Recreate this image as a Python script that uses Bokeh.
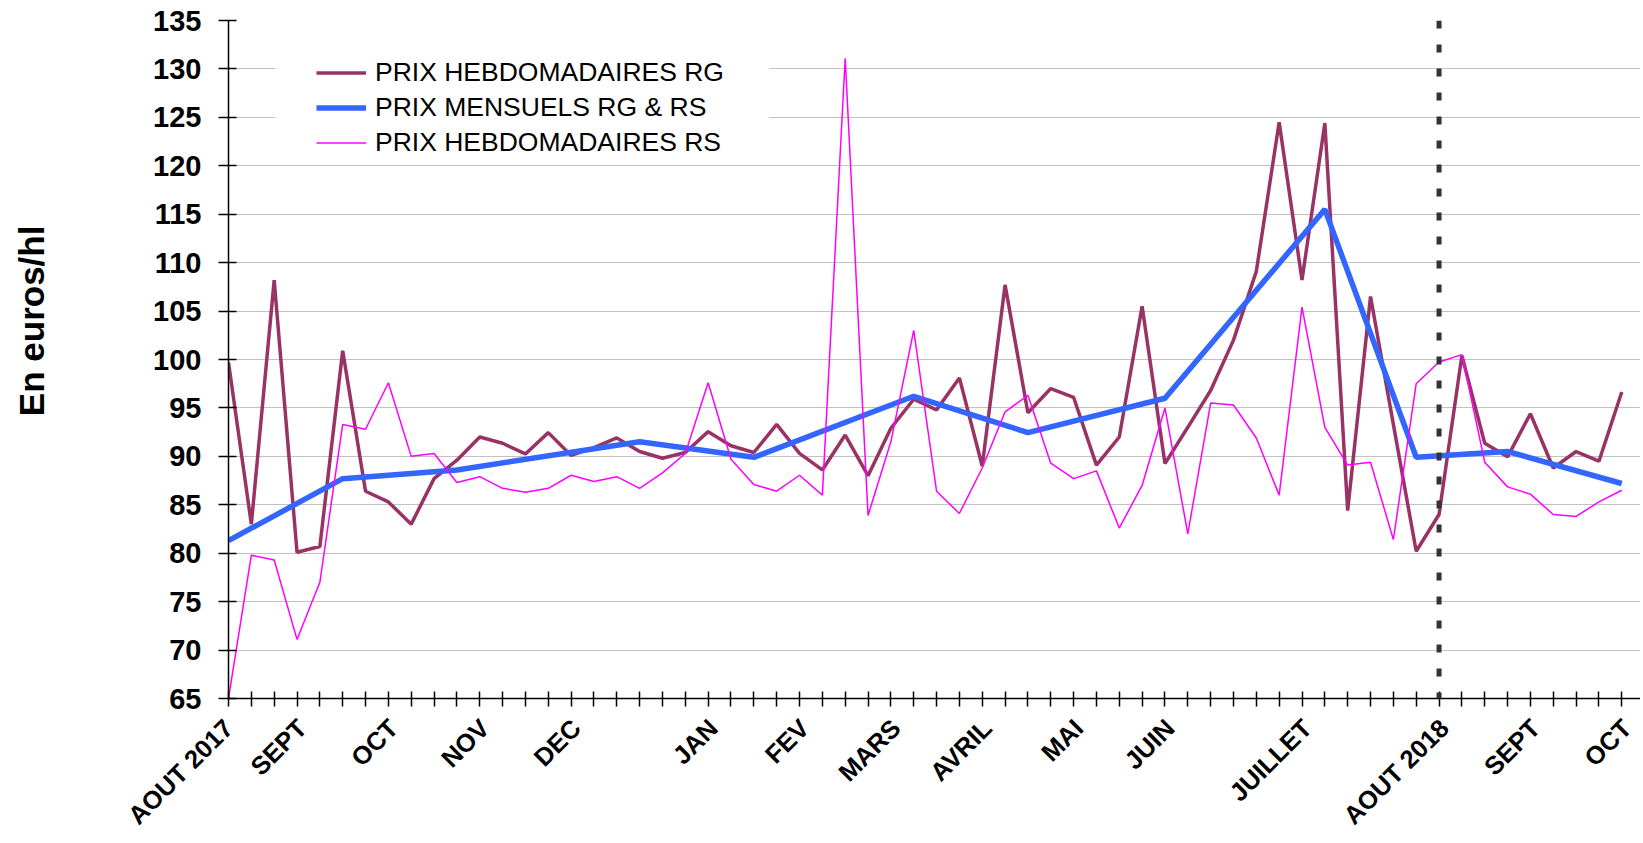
import math
from bokeh.plotting import figure
from bokeh.layouts import row
from bokeh.models import Range1d, FixedTicker, Span, Legend, LegendItem, BoxAnnotation
from bokeh.core.properties import value
from bokeh.embed import file_html
from bokeh.resources import INLINE

# ---- data ----
prix_rg = [99.7, 83.0, 108.2, 80.1, 80.7, 100.9, 86.4, 85.3, 83.0, 87.7,
           89.6, 92.0, 91.35, 90.25, 92.45, 90.1, 90.9, 91.9, 90.5, 89.8,
           90.4, 92.55, 91.1, 90.4, 93.3, 90.3, 88.6, 92.2, 88.0, 92.9,
           95.9, 94.8, 98.1, 89.0, 107.7, 94.5, 97.0, 96.1, 89.1, 92.0,
           105.5, 89.25, 93.0, 96.8, 102.0, 109.1, 124.5, 108.2, 124.4, 84.4,
           106.5, 93.3, 80.2, 84.0, 100.4, 91.35, 89.95, 94.4, 88.8, 90.5,
           89.5, 96.65]
prix_rs = [65.0, 79.8, 79.3, 71.1, 77.0, 93.3, 92.8, 97.6, 90.0, 90.3,
           87.3, 87.9, 86.7, 86.3, 86.7, 88.05, 87.4, 87.9, 86.7, 88.3,
           90.3, 97.6, 89.7, 87.1, 86.4, 88.05, 86.0, 131.1, 83.9, 91.5,
           103.0, 86.4, 84.1, 88.8, 94.6, 96.3, 89.3, 87.7, 88.5, 82.6,
           87.0, 95.0, 82.0, 95.5, 95.3, 91.9, 86.0, 105.4, 93.0, 89.1,
           89.4, 81.4, 97.5, 99.75, 100.5, 89.4, 86.85, 86.1, 84.0, 83.8,
           85.3, 86.5]
mensuel_semaine = [0, 5, 10, 18, 23, 30, 35, 41, 48, 52, 56, 61]
prix_mensuels = [81.3, 87.7, 88.6, 91.5, 89.9, 96.2, 92.45, 96.0, 115.5, 89.9, 90.5, 87.2]

mois_semaine = [0, 3, 7, 11, 15, 21, 25, 29, 33, 37, 41, 47, 53, 57, 61]
mois_labels = ["AOUT 2017", "SEPT", "OCT", "NOV", "DEC", "JAN", "FEV", "MARS",
               "AVRIL", "MAI", "JUIN", "JUILLET", "AOUT 2018", "SEPT", "OCT"]
y_ticks = list(range(65, 136, 5))
semaine_aout_2018 = 53
titre_y = "En euros/hl"

semaines = list(range(len(prix_rg)))

FONT = "Liberation Sans"
H = 842
TITLE_W = 60

# ---- narrow panel holding the vertical axis title ----
pt = figure(width=TITLE_W, height=H, output_backend="svg", toolbar_location=None,
            x_range=Range1d(0, TITLE_W), y_range=Range1d(0, H),
            x_axis_type=None, y_axis_type=None, min_border=0)
pt.title.visible = False
pt.outline_line_color = None
pt.grid.visible = False
pt.text(x=[30.5], y=[469], text=[titre_y], angle=math.pi / 2,
        text_align="center", text_baseline="middle",
        text_font=value(FONT), text_font_style="bold", text_font_size="35px",
        text_color="black")

# ---- main chart ----
p = figure(width=1640 - TITLE_W, height=H, output_backend="svg", toolbar_location=None,
           x_range=Range1d(0, 61.82), y_range=Range1d(65, 135),
           min_border_left=228 - TITLE_W, min_border_right=0, min_border_top=20,
           min_border_bottom=142)
p.title.visible = False
p.outline_line_color = None
p.background_fill_color = "white"

# grid
p.xgrid.visible = False
p.ygrid.ticker = FixedTicker(ticks=y_ticks)
p.ygrid.grid_line_color = "#858585"
p.ygrid.grid_line_width = 1.2
p.ygrid.grid_line_dash = "1 1"

# y axis
ya = p.yaxis[0]
ya.ticker = FixedTicker(ticks=y_ticks)
ya.major_label_text_font = FONT
ya.major_label_text_font_style = "bold"
ya.major_label_text_font_size = "29px"
ya.major_label_text_color = "black"
ya.axis_line_color = "black"
ya.axis_line_width = 1.5
ya.major_tick_in = 8
ya.major_tick_out = 10
ya.major_tick_line_color = "black"
ya.major_tick_line_width = 1.5
ya.minor_tick_line_color = None
ya.major_label_standoff = 17

# x axis: a tick mark on every week, month names slightly right of their week
label_pos = [s if s == 0 else s + 0.22 for s in mois_semaine]
xa = p.xaxis[0]
xa.ticker = FixedTicker(ticks=label_pos, minor_ticks=semaines)
xa.major_label_overrides = {pos: lab for pos, lab in zip(label_pos, mois_labels)}
xa.major_label_orientation = math.pi / 4
xa.major_label_text_font = FONT
xa.major_label_text_font_style = "bold"
xa.major_label_text_font_size = "25.5px"
xa.major_label_text_color = "black"
xa.axis_line_color = "black"
xa.axis_line_width = 1.5
xa.major_tick_in = 0
xa.major_tick_out = 8
xa.major_tick_line_color = None
xa.minor_tick_in = 7
xa.minor_tick_out = 8
xa.minor_tick_line_color = "black"
xa.minor_tick_line_width = 1.5
xa.major_label_standoff = 17

# white area behind legend (hides gridlines like the original)
box = BoxAnnotation(left=2.06, right=23.67, bottom=120.4, top=132.2,
                    fill_color="white", fill_alpha=1.0, line_color=None, level="glyph")
p.add_layout(box)

# series
r_rg = p.line(semaines, prix_rg, line_color="#993366", line_width=3.5)
r_m = p.line(mensuel_semaine, prix_mensuels, line_color="#3366FF", line_width=5.5)
r_rs = p.line(semaines, prix_rs, line_color="#FF00FF", line_width=1.5)

# vertical dashed marker
p.add_layout(Span(location=semaine_aout_2018, dimension="height", line_color="#333333",
                  line_width=5, line_dash="8 16"))

legend = Legend(items=[LegendItem(label="PRIX HEBDOMADAIRES RG", renderers=[r_rg]),
                       LegendItem(label="PRIX MENSUELS RG & RS", renderers=[r_m]),
                       LegendItem(label="PRIX HEBDOMADAIRES RS", renderers=[r_rs])],
                location=(88, 540), padding=5, spacing=4,
                glyph_width=50, glyph_height=31, label_height=31, label_standoff=9,
                label_text_font=FONT, label_text_font_size="26.5px", label_text_color="black",
                background_fill_alpha=0, border_line_color=None)
p.add_layout(legend, "center")

layout = row(pt, p)
open("out.html", "w").write(file_html(layout, INLINE))
